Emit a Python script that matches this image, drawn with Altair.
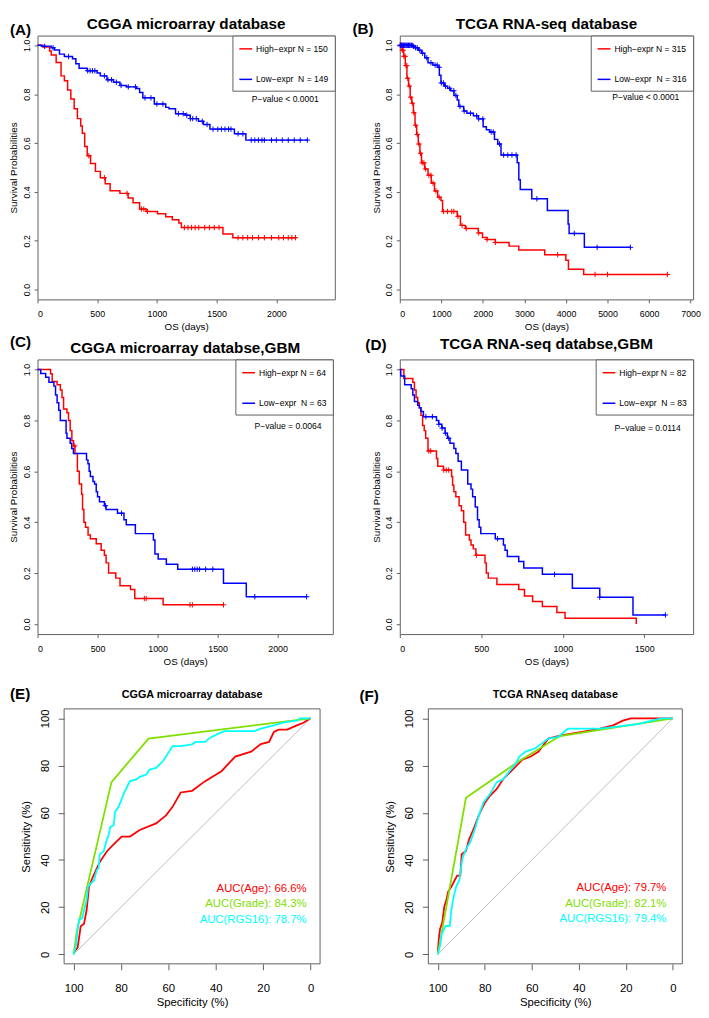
import altair as alt
import pandas as pd

FONT = "Liberation Sans"
RED = "#FF0000"
BLUE = "#0000FF"
GREEN = "#7FE000"
CYAN = "#00FFFF"
FRAME = "#606060"
PLUS = "M-1,0L1,0M0,-1L0,1"

# ---------------- (A) CGGA microarray ----------------
A_hi_t = [0, 45, 101, 115, 156, 197, 225, 252, 279, 307, 334, 362, 375, 395, 416, 444, 485, 526, 567, 608, 690, 759, 800, 855, 910, 1005, 1074, 1129, 1184, 1205, 1553, 1636, 2170]
A_hi_s = [1.0, 0.993, 0.977, 0.96, 0.93, 0.875, 0.855, 0.817, 0.78, 0.74, 0.70, 0.67, 0.64, 0.586, 0.548, 0.516, 0.484, 0.458, 0.433, 0.405, 0.394, 0.375, 0.356, 0.33, 0.32, 0.311, 0.298, 0.286, 0.273, 0.254, 0.228, 0.2125, 0.2125]
A_lo_t = [0, 33, 115, 142, 184, 225, 293, 321, 348, 416, 499, 526, 581, 636, 690, 745, 827, 855, 882, 978, 1074, 1101, 1156, 1238, 1279, 1348, 1389, 1444, 1649, 1745, 2266]
A_lo_s = [1.0, 0.996, 0.99, 0.981, 0.964, 0.954, 0.945, 0.925, 0.906, 0.896, 0.887, 0.875, 0.859, 0.849, 0.836, 0.83, 0.823, 0.807, 0.785, 0.76, 0.746, 0.74, 0.72, 0.714, 0.70, 0.689, 0.676, 0.657, 0.638, 0.612, 0.612]
A_hi_c = [430, 560, 750, 870, 890, 920, 1230, 1260, 1290, 1320, 1350, 1400, 1440, 1480, 1520, 1680, 1720, 1760, 1800, 1850, 1900, 1960, 2020, 2060, 2100, 2130, 2160]
A_lo_c = [60, 130, 260, 420, 440, 460, 480, 560, 590, 620, 660, 700, 760, 820, 900, 950, 1000, 1050, 1180, 1220, 1250, 1280, 1300, 1330, 1380, 1420, 1470, 1510, 1540, 1570, 1600, 1620, 1680, 1720, 1790, 1820, 1850, 1880, 1900, 1960, 2000, 2050, 2100, 2150, 2200, 2260]
A_names = ["High\u2212expr N = 150", "Low\u2212expr\u00a0 N = 149"]

# ---------------- (B) TCGA RNA-seq ----------------
B_hi_t = [0, 55, 94, 133, 172, 211, 250, 289, 328, 367, 406, 445, 484, 523, 601, 679, 757, 835, 913, 991, 1030, 1382, 1460, 1577, 1889, 1990, 2100, 2300, 2631, 2865, 3489, 3997, 4059, 4426, 6456]
B_hi_s = [1.0, 0.98, 0.955, 0.917, 0.865, 0.833, 0.788, 0.763, 0.724, 0.673, 0.635, 0.596, 0.558, 0.519, 0.494, 0.468, 0.436, 0.404, 0.378, 0.365, 0.32, 0.30, 0.263, 0.25, 0.232, 0.213, 0.205, 0.193, 0.178, 0.162, 0.143, 0.12, 0.083, 0.062, 0.062]
B_lo_t = [0, 328, 367, 445, 523, 601, 679, 796, 913, 952, 991, 1069, 1148, 1226, 1304, 1382, 1421, 1538, 1616, 1772, 1889, 2006, 2084, 2162, 2279, 2358, 2436, 2826, 2865, 2900, 3177, 3552, 4051, 4075, 4442, 5558]
B_lo_s = [1.0, 0.996, 0.99, 0.98, 0.968, 0.949, 0.929, 0.919, 0.91, 0.878, 0.846, 0.833, 0.824, 0.814, 0.795, 0.776, 0.75, 0.731, 0.722, 0.712, 0.699, 0.667, 0.654, 0.645, 0.615, 0.596, 0.551, 0.519, 0.45, 0.41, 0.372, 0.324, 0.269, 0.23, 0.173, 0.173]
B_hi_c = [20, 40, 60, 80, 100, 130, 150, 170, 190, 230, 260, 300, 340, 380, 420, 460, 500, 540, 580, 620, 700, 750, 800, 870, 950, 1050, 1150, 1250, 1300, 1400, 1500, 1600, 1900, 2100, 2300, 3800, 4700, 5000, 6440]
B_lo_c = [10, 30, 50, 70, 90, 110, 130, 150, 170, 190, 210, 230, 250, 280, 300, 330, 380, 420, 480, 550, 650, 750, 850, 900, 950, 1000, 1050, 1100, 1200, 1300, 1350, 1450, 1550, 1700, 1850, 1900, 2000, 2200, 2250, 2400, 2500, 2600, 2700, 2800, 3300, 4200, 4750, 5550]
B_names = ["High\u2212expr N = 315", "Low\u2212expr\u00a0 N = 316"]

# ---------------- (C) CGGA GBM ----------------
C_hi_t = [0, 109, 122, 163, 190, 204, 217, 245, 258, 272, 286, 300, 312, 332, 348, 367, 375, 386, 400, 421, 440, 489, 530, 557, 571, 592, 652, 687, 774, 810, 1046, 1549]
C_hi_s = [1.0, 0.984, 0.953, 0.94, 0.92, 0.89, 0.845, 0.83, 0.8, 0.76, 0.72, 0.7, 0.67, 0.6, 0.55, 0.51, 0.45, 0.4, 0.38, 0.35, 0.335, 0.315, 0.29, 0.27, 0.24, 0.2, 0.18, 0.15, 0.135, 0.1, 0.075, 0.075]
C_lo_t = [0, 27, 68, 95, 136, 150, 163, 177, 190, 238, 245, 272, 285, 299, 408, 420, 430, 440, 462, 475, 489, 500, 516, 557, 571, 666, 720, 739, 815, 965, 978, 1005, 1073, 1168, 1549, 1739, 2242]
C_lo_s = [1.0, 0.985, 0.97, 0.95, 0.935, 0.9, 0.87, 0.84, 0.8, 0.75, 0.73, 0.71, 0.69, 0.67, 0.645, 0.63, 0.6, 0.58, 0.56, 0.55, 0.52, 0.5, 0.48, 0.465, 0.45, 0.435, 0.41, 0.39, 0.355, 0.33, 0.275, 0.255, 0.235, 0.215, 0.16, 0.107, 0.107]
C_hi_c = [310, 890, 905, 1270, 1290, 1549]
C_lo_c = [565, 700, 1290, 1310, 1330, 1350, 1400, 1460, 1810, 2242]
C_names = ["High\u2212expr N = 64", "Low\u2212expr\u00a0 N = 63"]

# ---------------- (D) TCGA GBM ----------------
D_hi_t = [0, 25, 80, 90, 100, 110, 120, 130, 140, 150, 159, 173, 225, 233, 268, 318, 324, 332, 344, 364, 378, 392, 404, 427, 437, 451, 467, 523, 531, 543, 596, 730, 765, 815, 875, 964, 1014, 1451]
D_hi_s = [1.0, 0.965, 0.95, 0.92, 0.89, 0.87, 0.85, 0.82, 0.78, 0.76, 0.73, 0.68, 0.65, 0.62, 0.605, 0.58, 0.545, 0.52, 0.5, 0.465, 0.445, 0.4, 0.35, 0.33, 0.31, 0.295, 0.27, 0.24, 0.2, 0.18, 0.155, 0.135, 0.11, 0.088, 0.068, 0.045, 0.022, 0.0]
D_lo_t = [0, 6, 30, 70, 80, 90, 110, 120, 130, 145, 225, 239, 258, 278, 292, 308, 332, 344, 358, 378, 417, 437, 447, 463, 477, 487, 497, 586, 636, 646, 660, 730, 761, 875, 1059, 1227, 1431, 1630]
D_lo_s = [1.0, 0.975, 0.94, 0.925, 0.9, 0.875, 0.86, 0.85, 0.835, 0.815, 0.8, 0.785, 0.77, 0.75, 0.73, 0.71, 0.69, 0.67, 0.64, 0.605, 0.55, 0.53, 0.5, 0.46, 0.41, 0.38, 0.355, 0.335, 0.31, 0.29, 0.265, 0.245, 0.22, 0.195, 0.14, 0.105, 0.035, 0.035]
D_hi_c = [178, 190, 270, 285, 300, 470]
D_lo_c = [160, 200, 240, 260, 280, 300, 600, 950, 1227, 1630]
D_names = ["High\u2212expr N = 82", "Low\u2212expr\u00a0 N = 83"]

# ---------------- (E) ROC CGGA ----------------
E_age_spec = [100, 98.3, 97.7, 97, 95.6, 94.5, 93.5, 92.5, 90.7, 88.7, 85.9, 82.5, 79.7, 76.2, 72.1, 65.2, 61, 58.3, 54.8, 50, 44.5, 37.6, 31.8, 25.1, 21, 17.5, 15.5, 13.4, 9.9, 5.8, 3, 0]
E_age_sens = [0.8, 2.9, 7, 11.9, 13, 18.8, 28.5, 31.3, 35.4, 39.6, 43.7, 47.2, 49.9, 49.9, 52.7, 55.5, 58.9, 62.4, 68.6, 69.3, 73.4, 77.6, 83.8, 85.9, 89.1, 90, 94.2, 95.2, 95.2, 97, 98.1, 100]
E_grade_spec = [100, 98.6, 84, 68.4, 0]
E_grade_sens = [0, 10, 73, 91.4, 100]
E_rgs_spec = [100, 99, 98.3, 97.7, 96.3, 95.6, 94.5, 93.9, 92.8, 91.4, 90.3, 89.4, 89, 87.3, 86.2, 85.2, 84.5, 83.1, 82.5, 81.1, 79.7, 78.6, 77.6, 76.2, 73.5, 72.1, 69.3, 68, 65.2, 63.8, 62.4, 61, 59.7, 58.3, 54.8, 50, 48.6, 44.5, 42.4, 38.9, 36.2, 23.8, 21, 15.5, 11.3, 5.8, 4.4, 0]
E_rgs_sens = [0, 3.6, 10.5, 14.7, 15.4, 18.8, 23, 28.5, 30, 31.3, 35.4, 36.8, 42.3, 43.7, 47.9, 50.6, 54, 54.7, 60.3, 62.4, 65.8, 68.6, 70.7, 73.4, 74.1, 75.2, 76.2, 78.3, 79, 80.4, 81.7, 83.8, 85.9, 88.2, 88.2, 89, 90, 90, 91.8, 93.5, 94.6, 94.6, 95.6, 97, 98.3, 99, 100, 100]
E_auc = ["AUC(Age): 66.6%", "AUC(Grade): 84.3%", "AUC(RGS16): 78.7%"]

# ---------------- (F) ROC TCGA ----------------
F_age_spec = [100, 99.4, 99, 98.1, 97.2, 96.3, 95.6, 94.2, 92.8, 91.7, 90.4, 89.8, 88, 86.7, 84.6, 82.5, 81.2, 79.8, 77.7, 75, 72.2, 69.5, 66.7, 64, 60.5, 57.1, 53, 47.5, 39.2, 31, 25.4, 21.3, 17.9, 0]
F_age_sens = [1, 7.9, 10.9, 13.4, 20.3, 23.1, 26.5, 28.6, 31.4, 33.4, 33.4, 42.4, 43.8, 48.6, 53.5, 59, 61.7, 64.5, 67.3, 70, 74.2, 76.9, 79.7, 82.5, 83.8, 85.9, 91.4, 92.8, 94.2, 95.6, 97, 99, 100, 100]
F_grade_spec = [100, 88, 66, 48, 0]
F_grade_sens = [0, 66.3, 81.5, 92.5, 100]
F_rgs_spec = [100, 99, 98.3, 96.7, 94.9, 94.2, 93.5, 92.2, 90.8, 90.1, 89.4, 88, 86, 83.9, 82.5, 80.5, 77.7, 75, 72.2, 69.5, 66.7, 65.3, 62.6, 58.5, 55.7, 53, 48.8, 44.7, 31, 25.4, 14.4, 8.9, 4.8, 0]
F_rgs_sens = [0, 3.7, 8.6, 12, 12, 18.9, 23.1, 28.6, 31.4, 36.9, 41, 44.5, 47.9, 54.1, 59, 64.5, 68, 72.8, 74.2, 77.6, 81.1, 83.8, 85.9, 87.3, 89.4, 91.4, 92.1, 95.6, 95.6, 96.3, 97.7, 99, 100, 100]
F_auc = ["AUC(Age): 79.7%", "AUC(Grade): 82.1%", "AUC(RGS16): 79.4%"]

ROC_SERIES = ["Age", "Grade", "RGS16"]


def step_at(ts, ss, t):
    v = ss[0]
    for ti, si in zip(ts, ss):
        if ti <= t:
            v = si
        else:
            break
    return v


def label_layer(text, tx, ty, size, align):
    return alt.Chart(pd.DataFrame({"label": [text]})).mark_text(
        font=FONT, fontSize=size, fontWeight="bold", align=align,
        baseline="middle", color="black"
    ).encode(x=alt.value(tx), y=alt.value(ty), text="label:N")


def km_panel(title, title_y, tag, tx, ty, xdom, xticks, hi_t, hi_s, lo_t, lo_s,
             hi_c, lo_c, names, pval, pxy, w, h):
    lines = pd.DataFrame({
        "t": hi_t + lo_t, "s": hi_s + lo_s,
        "grp": [names[0]] * len(hi_t) + [names[1]] * len(lo_t)})
    cens = pd.DataFrame({
        "t": hi_c + lo_c,
        "s": [step_at(hi_t, hi_s, c) for c in hi_c] + [step_at(lo_t, lo_s, c) for c in lo_c],
        "grp": [names[0]] * len(hi_c) + [names[1]] * len(lo_c)})
    x = alt.X("t:Q", scale=alt.Scale(domain=xdom, nice=False, zero=False),
              axis=alt.Axis(values=xticks, format="d", title="OS (days)",
                            tickSize=3.5, labelPadding=7, labelFontSize=9,
                            titleFontSize=10, titlePadding=3))
    y = alt.Y("s:Q", scale=alt.Scale(domain=[-0.04, 1.04], nice=False, zero=False),
              axis=alt.Axis(values=[0, 0.2, 0.4, 0.6, 0.8, 1.0], format=".1f",
                            title="Survival Probabilities", tickSize=3.5,
                            labelPadding=3, labelAngle=270, labelAlign="center",
                            labelBaseline="bottom", labelFontSize=9,
                            titleFontSize=10, titlePadding=3,
                            minExtent=16, maxExtent=16))
    color = alt.Color("grp:N", scale=alt.Scale(domain=names, range=[RED, BLUE]),
                      title=None,
                      legend=alt.Legend(orient="top-right", offset=0, padding=6,
                                        strokeColor=FRAME, fillColor="white",
                                        symbolType="stroke", symbolSize=169,
                                        symbolStrokeWidth=1.5, labelFont=FONT,
                                        labelFontSize=8.7, labelColor="black",
                                        labelOffset=3, rowPadding=18))
    line = alt.Chart(lines).mark_line(interpolate="step-after", strokeWidth=1.5).encode(
        x=x, y=y, color=color)
    pts = alt.Chart(cens).mark_point(shape=PLUS, size=30, filled=False,
                                     strokeWidth=1, opacity=1).encode(
        x="t:Q", y="s:Q", color=alt.Color("grp:N", legend=None))
    ptxt = alt.Chart(pd.DataFrame({"t": [pxy[0]], "s": [pxy[1]], "label": [pval]})).mark_text(
        font=FONT, fontSize=8.7, color="black").encode(x="t:Q", y="s:Q", text="label:N")
    return alt.layer(line, pts, ptxt,
                     label_layer(tag, tx, ty, 15.5, "left"),
                     label_layer(title, w / 2, title_y, 15.5, "center")).properties(
        width=w, height=h)


def roc_panel(title, tag, tx, ty, series, aucs, auc_x, auc_ys, off, fw, top, fh):
    rows = []
    for name, (sp, se) in zip(ROC_SERIES, series):
        for i, (a, b) in enumerate(zip(sp, se)):
            rows.append({"spec": a, "sens": b, "series": name, "i": i})
    df = pd.DataFrame(rows)
    x = alt.X("spec:Q", scale=alt.Scale(domain=[104, -4], range=[off, off + fw], nice=False, zero=False),
              axis=alt.Axis(values=[100, 80, 60, 40, 20, 0], title="Specificity (%)",
                            tickSize=6, labelPadding=13, labelFontSize=11.5,
                            titleFontSize=11.5, titlePadding=3,
                            titleX=off + fw / 2, titleAnchor="middle", titleAlign="center"))
    y = alt.Y("sens:Q", scale=alt.Scale(domain=[-4, 104], range=[top + fh, top], nice=False, zero=False),
              axis=alt.Axis(values=[0, 20, 40, 60, 80, 100], title="Sensitivity (%)",
                            tickSize=6, labelPadding=8, labelAngle=270,
                            labelAlign="center", labelBaseline="bottom",
                            labelFontSize=11.5, titleFontSize=11.5, titlePadding=7,
                            minExtent=26, maxExtent=26, offset=-off,
                            titleY=top + fh / 2, titleAnchor="middle", titleAlign="center"))
    cscale = alt.Scale(domain=ROC_SERIES, range=[RED, GREEN, CYAN])
    frame = alt.Chart(pd.DataFrame({"k": [0]})).mark_rect(
        fillOpacity=0, stroke=FRAME, strokeWidth=1).encode(
        x=alt.datum(104), x2=alt.datum(-4), y=alt.datum(-4), y2=alt.datum(104))
    diag = alt.Chart(pd.DataFrame({"spec": [100, 0], "sens": [0, 100]})).mark_line(
        color="#BEBEBE", strokeWidth=1).encode(x=x, y=y)
    lines = alt.Chart(df).mark_line(strokeWidth=1.8).encode(
        x="spec:Q", y="sens:Q", order="i:Q",
        color=alt.Color("series:N", scale=cscale, legend=None))
    txt = alt.Chart(pd.DataFrame({"spec": [auc_x] * 3, "sens": auc_ys,
                                  "label": aucs, "series": ROC_SERIES})).mark_text(
        font=FONT, fontSize=11.5, align="right").encode(
        x="spec:Q", y="sens:Q", text="label:N",
        color=alt.Color("series:N", scale=cscale, legend=None))
    return alt.layer(diag, frame, lines, txt,
                     label_layer(tag, tx, top + ty, 15.5, "left"),
                     label_layer(title, off + fw / 2, top - 14, 11, "center")).properties(
        width=off + fw, height=top + fh, view=alt.ViewBackground(stroke="transparent"))


A = km_panel("CGGA microarray database", -12, "(A)", -28, -6, [0, 2490], [0, 500, 1000, 1500, 2000],
             A_hi_t, A_hi_s, A_lo_t, A_lo_s, A_hi_c, A_lo_c, A_names,
             "P\u2212value < 0.0001", (2075, 0.78), 302, 268)
B = km_panel("TCGA RNA-seq database", -12, "(B)", -48, -7, [0, 7060], [0, 1000, 2000, 3000, 4000, 5000, 6000, 7000],
             B_hi_t, B_hi_s, B_lo_t, B_lo_s, B_hi_c, B_lo_c, B_names,
             "P\u2212value < 0.0001", (5920, 0.79), 298, 268)
C = km_panel("CGGA microarray databse,GBM", -12, "(C)", -28, -18, [0, 2460], [0, 500, 1000, 1500, 2000],
             C_hi_t, C_hi_s, C_lo_t, C_lo_s, C_hi_c, C_lo_c, C_names,
             "P\u2212value = 0.0064", (2087, 0.777), 300, 279)
D = km_panel("TCGA RNA-seq databse,GBM", -16, "(D)", -35, -15, [0, 1800], [0, 500, 1000, 1500],
             D_hi_t, D_hi_s, D_lo_t, D_lo_s, D_hi_c, D_lo_c, D_names,
             "P\u2212value = 0.0114", (1521, 0.769), 298, 279)
E = roc_panel("CGGA microarray database", "(E)", -28, -15,
              [(E_age_spec, E_age_sens), (E_grade_spec, E_grade_sens), (E_rgs_spec, E_rgs_sens)],
              E_auc, 1.7, [27.8, 21.2, 14.7], 27, 260, 40, 259)
F = roc_panel("TCGA RNAseq database", "(F)", -41, -13,
              [(F_age_spec, F_age_sens), (F_grade_spec, F_grade_sens), (F_rgs_spec, F_rgs_sens)],
              F_auc, 2.75, [27.9, 21.5, 15.0], 29, 258, 40, 259)

chart = alt.concat(A, B, C, D, E, F, columns=2, align="each",
                   spacing={"row": 2, "column": 16}).resolve_scale(
    color="independent"
).properties(
    padding=0
).configure_view(stroke=FRAME, strokeWidth=1).configure_axis(
    domain=False, grid=False, tickColor=FRAME, labelColor="black", titleColor="black",
    labelFont=FONT, titleFont=FONT, titleFontWeight="normal"
).configure_text(font=FONT)

chart.save("out.html", embed_options={"renderer": "svg", "actions": False})
